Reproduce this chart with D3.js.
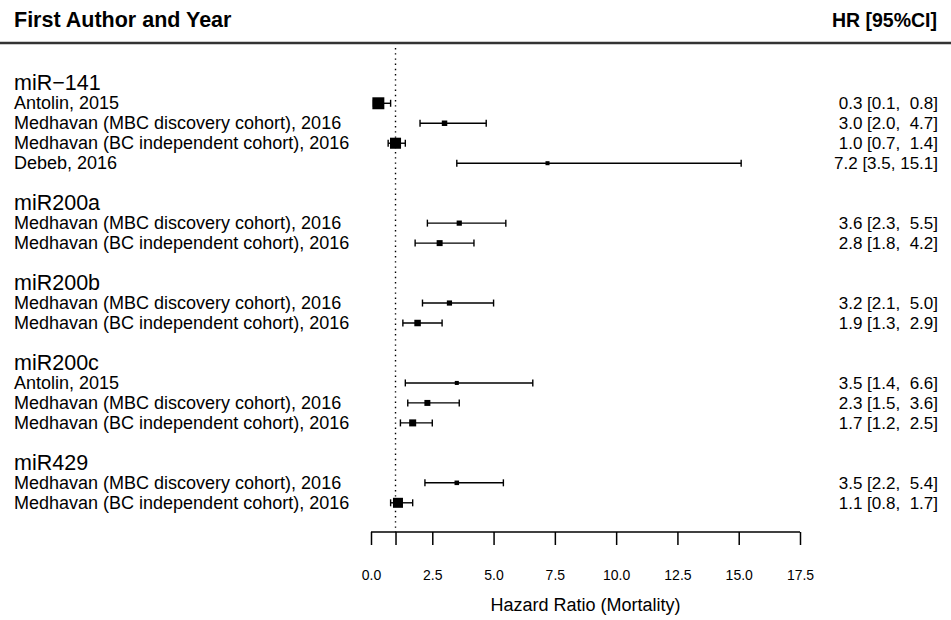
<!DOCTYPE html>
<html>
<head>
<meta charset="utf-8">
<title>Forest plot</title>
<script src="https://d3js.org/d3.v7.min.js"></script>
<style>
body { margin: 0; background: #fff; }
svg { display: block; font-family: "Liberation Sans", Arial, Helvetica, sans-serif; }
.lab { font-size: 18px; }
.grp { font-size: 21.5px; }
.ci-text { font-size: 17px; white-space: pre; }
.head { font-weight: bold; }
</style>
</head>
<body>
<script>
let width = 951, height = 620;

// data
let groups = ['miR\u2212141', 'miR200a', 'miR200b', 'miR200c', 'miR429'];
let studies = [
    'Antolin, 2015',
    'Medhavan (MBC discovery cohort), 2016',
    'Medhavan (BC independent cohort), 2016',
    'Debeb, 2016',
    'Medhavan (MBC discovery cohort), 2016',
    'Medhavan (BC independent cohort), 2016',
    'Medhavan (MBC discovery cohort), 2016',
    'Medhavan (BC independent cohort), 2016',
    'Antolin, 2015',
    'Medhavan (MBC discovery cohort), 2016',
    'Medhavan (BC independent cohort), 2016',
    'Medhavan (MBC discovery cohort), 2016',
    'Medhavan (BC independent cohort), 2016'
];
let studyGroup = [0, 0, 0, 0, 1, 1, 2, 2, 3, 3, 3, 4, 4];
let hr    = [0.3, 3.0, 1.0, 7.2, 3.6, 2.8, 3.2, 1.9, 3.5, 2.3, 1.7, 3.5, 1.1];
let lower = [0.1, 2.0, 0.7, 3.5, 2.3, 1.8, 2.1, 1.3, 1.4, 1.5, 1.2, 2.2, 0.8];
let upper = [0.8, 4.7, 1.4, 15.1, 5.5, 4.2, 5.0, 2.9, 6.6, 3.6, 2.5, 5.4, 1.7];
// relative box weights
let weight = [0.92, 0.42, 0.85, 0.31, 0.4, 0.46, 0.4, 0.5, 0.31, 0.46, 0.54, 0.35, 0.77];
let xTicks = [0, 1, 2.5, 5, 7.5, 10, 12.5, 15, 17.5];

// build row list: group header, its studies, a blank row
let rows = [];
groups.forEach((g, gi) => {
    rows.push({type: 'group', label: g});
    studies.forEach((s, i) => {
        if (studyGroup[i] === gi) rows.push({type: 'study', label: s, hr: hr[i], lo: lower[i], up: upper[i], w: weight[i]});
    });
    if (gi < groups.length - 1) rows.push({type: 'blank'});
});
rows.forEach((r, i) => r.idx = i);

let xScale = d3.scaleLinear().domain([0, 17.5]).range([371, 800]);
let yScale = d3.scaleLinear().domain([0, rows.length - 1]).range([83.3, 502.8]);
let boxScale = d3.scaleLinear().domain([0, 1]).range([0, 13]);

let svg = d3.select('body').append('svg').attr('width', width).attr('height', height);

// header
svg.append('text').attr('class', 'head').attr('x', 14).attr('y', 27).style('font-size', '21.5px').text('First Author and Year');
svg.append('text').attr('class', 'head').attr('x', 937).attr('y', 27).style('font-size', '19.5px')
    .attr('text-anchor', 'end').text('HR [95%CI]');
svg.append('line').attr('x1', 0).attr('x2', width).attr('y1', 43).attr('y2', 43)
    .attr('stroke', '#333').attr('stroke-width', 2.5);

// reference line at HR = 1
svg.append('line').attr('x1', xScale(1)).attr('x2', xScale(1)).attr('y1', 48).attr('y2', 532)
    .attr('stroke', '#000').attr('stroke-width', 1.4).attr('stroke-dasharray', '1.4,3.8');

// labels
svg.selectAll('.grp').data(rows.filter(r => r.type === 'group')).enter()
    .append('text').attr('class', 'grp').attr('x', 14).attr('y', d => yScale(d.idx)).attr('dy', '0.33em')
    .text(d => d.label);

let st = rows.filter(r => r.type === 'study');
svg.selectAll('.lab').data(st).enter()
    .append('text').attr('class', 'lab').attr('x', 14).attr('y', d => yScale(d.idx)).attr('dy', '0.33em')
    .text(d => d.label);

let f = d3.format('.1f');
svg.selectAll('.ci-text').data(st).enter()
    .append('text').attr('class', 'ci-text').attr('x', 938).attr('y', d => yScale(d.idx)).attr('dy', '0.34em')
    .attr('text-anchor', 'end')
    .text(d => f(d.hr) + ' [' + f(d.lo) + ', ' + f(d.up).padStart(4, ' ') + ']');

// confidence intervals
let ci = svg.append('g').selectAll('g').data(st).enter().append('g')
    .attr('transform', d => 'translate(0,' + yScale(d.idx) + ')');
ci.append('line').attr('x1', d => xScale(d.lo)).attr('x2', d => xScale(d.up)).attr('stroke', '#000').attr('stroke-width', 1.4);
ci.append('line').attr('x1', d => xScale(d.lo)).attr('x2', d => xScale(d.lo)).attr('y1', -3.5).attr('y2', 3.5).attr('stroke', '#000').attr('stroke-width', 1.4);
ci.append('line').attr('x1', d => xScale(d.up)).attr('x2', d => xScale(d.up)).attr('y1', -3.5).attr('y2', 3.5).attr('stroke', '#000').attr('stroke-width', 1.4);
ci.append('rect')
    .attr('x', d => xScale(d.hr) - boxScale(d.w) / 2).attr('y', d => -boxScale(d.w) / 2)
    .attr('width', d => boxScale(d.w)).attr('height', d => boxScale(d.w)).attr('fill', '#000');

// x axis
let xAxis = d3.axisBottom(xScale).tickValues(xTicks).tickSize(13).tickPadding(25)
    .tickFormat(d => d === 1 ? '' : f(d));
let ax = svg.append('g').attr('transform', 'translate(0,532)').call(xAxis)
    .attr('font-size', null).attr('font-family', null);
ax.select('.domain').attr('d', 'M' + xScale(0) + ',0H' + xScale(17.5)).attr('stroke-width', 1.5);
ax.selectAll('.tick line').attr('stroke-width', 1.5);
ax.selectAll('.tick text').attr('fill', '#000').style('font-size', '14px');

svg.append('text').attr('x', (xScale(0) + xScale(17.5)) / 2).attr('y', 611).attr('text-anchor', 'middle')
    .style('font-size', '18px').text('Hazard Ratio (Mortality)');
</script>
</body>
</html>
